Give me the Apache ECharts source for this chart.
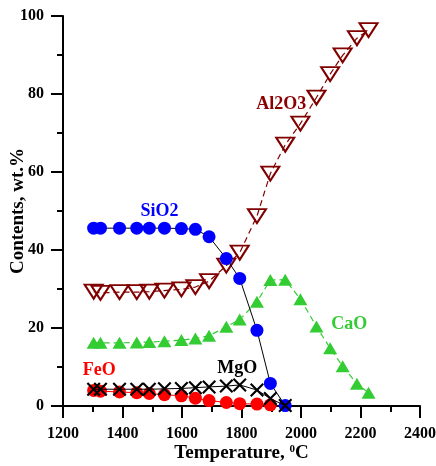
<!DOCTYPE html>
<html>
<head>
<meta charset="utf-8">
<script src="https://cdn.jsdelivr.net/npm/echarts@6/dist/echarts.min.js"></script>
<style>
html,body{margin:0;padding:0;background:#fff;}
#chart{width:436px;height:466px;}
</style>
</head>
<body>
<div id="chart"></div>
<script>
// Temperatures (°C)
const temps = [1303, 1326, 1390, 1448, 1490, 1541, 1598, 1645, 1691, 1749, 1794, 1852, 1897, 1947, 1998, 2052, 2098, 2140, 2188, 2227];
// Contents, wt.%
const sio2  = [45.6, 45.6, 45.6, 45.6, 45.6, 45.6, 45.5, 45.3, 43.4, 37.8, 32.7, 19.4, 5.8, 0.1];
const al2o3 = [29.3, 29.0, 29.2, 29.2, 29.3, 29.6, 29.9, 30.5, 32.0, 36.0, 39.3, 48.7, 59.6, 67.0, 72.4, 79.1, 85.1, 89.9, 94.3, 96.4];
const cao   = [16.2, 16.2, 16.2, 16.3, 16.4, 16.6, 16.9, 17.3, 18.0, 20.3, 22.2, 26.7, 32.3, 32.4, 27.4, 20.4, 14.8, 10.2, 5.7, 3.4];
const feo   = [4.0, 3.8, 3.6, 3.4, 3.2, 2.9, 2.6, 2.0, 1.4, 0.9, 0.6, 0.5, 0.3];
const mgo   = [4.3, 4.3, 4.3, 4.3, 4.3, 4.4, 4.5, 4.7, 4.9, 5.1, 5.4, 4.1, 1.9, 0.1];
// Series labels: [text, temperature, value, colour]
const labels = [
  ['SiO2', 1524, 50.0, '#0000ff'],
  ['Al2O3', 1934, 77.4, '#8b0000'],
  ['CaO', 2162, 21.0, '#33cc33'],
  ['FeO', 1322, 9.2, '#ff0000'],
  ['MgO', 1786, 9.7, '#000000']
];

const FF = '"Liberation Serif","Times New Roman",serif';
const pairs = vals => vals.map((v, i) => [temps[i], v]);
const xPath = 'path://M0,1.5L1.5,0L7,5.5L12.5,0L14,1.5L8.5,7L14,12.5L12.5,14L7,8.5L1.5,14L0,12.5L5.5,7Z';

const chart = echarts.init(document.getElementById('chart'), null, {renderer: 'canvas'});
function axisCommon() {
  return {
    type: 'value',
    axisLine: {show: true, onZero: false, lineStyle: {color: '#000', width: 2}},
    axisTick: {show: true, inside: false, length: 12, lineStyle: {color: '#000', width: 2}},
    minorTick: {show: true, splitNumber: 2, length: 6, lineStyle: {color: '#000', width: 2}},
    splitLine: {show: false},
    minorSplitLine: {show: false},
    nameMoveOverlap: false
  };
}
const option = {
  animation: false,
  backgroundColor: '#fff',
  grid: {left: 63, right: 16, top: 16, bottom: 60, containLabel: false, outerBoundsMode: 'none'},
  xAxis: Object.assign(axisCommon(), {
    min: 1200, max: 2400, interval: 200,
    axisLabel: {margin: 20, fontFamily: FF, fontWeight: 'bold', fontSize: 16, color: '#000', showMinLabel: true, showMaxLabel: true,
      formatter: v => String(v)},
    name: 'Temperature, {sup|0}C',
    nameLocation: 'middle', nameGap: 38,
    nameTextStyle: {fontFamily: FF, fontWeight: 'bold', fontSize: 19, color: '#000',
      rich: {sup: {fontFamily: FF, fontWeight: 'bold', fontSize: 11, color: '#000', verticalAlign: 'top', padding: [0, 0, 8, 0]}}}
  }),
  yAxis: Object.assign(axisCommon(), {
    min: 0, max: 100, interval: 20,
    axisLabel: {margin: 19, fontFamily: FF, fontWeight: 'bold', fontSize: 16, color: '#000', showMinLabel: true, showMaxLabel: true,
      formatter: v => String(v)},
    name: 'Contents, wt.%',
    nameLocation: 'middle', nameGap: 35, nameRotate: 90,
    nameTextStyle: {fontFamily: FF, fontWeight: 'bold', fontSize: 19, color: '#000'}
  }),
  series: [
    {type: 'line', name: 'CaO', data: pairs(cao), symbol: 'triangle', symbolSize: [14, 12],
      itemStyle: {color: '#33cc33'}, lineStyle: {color: '#33cc33', width: 1.2, type: [6, 4]}, z: 2},
    {type: 'line', name: 'Al2O3', data: pairs(al2o3), symbol: 'triangle', symbolRotate: 180, symbolSize: [18, 14],
      itemStyle: {color: 'rgba(0,0,0,0)', borderColor: '#800000', borderWidth: 2}, lineStyle: {color: '#800000', width: 1.2, type: [6, 4]}, z: 3},
    {type: 'line', name: 'FeO', data: pairs(feo), symbol: 'circle', symbolSize: 13,
      itemStyle: {color: '#ff0000'}, lineStyle: {color: '#ff0000', width: 1}, z: 3},
    {type: 'line', name: 'SiO2', data: pairs(sio2), symbol: 'circle', symbolSize: 13,
      itemStyle: {color: '#0000ff'}, lineStyle: {color: '#000', width: 1}, z: 4},
    {type: 'line', name: 'MgO', data: pairs(mgo), symbol: xPath, symbolSize: 14,
      itemStyle: {color: '#000'}, lineStyle: {color: '#000', width: 1}, z: 5}
  ]
};
chart.setOption(option);
const graphics = labels.map(l => {
  const p = chart.convertToPixel({gridIndex: 0}, [l[1], l[2]]);
  return {type: 'text', x: p[0], y: p[1], z: 10,
    style: {text: l[0], fill: l[3], font: 'bold 18px ' + FF, align: 'center', verticalAlign: 'middle', textAlign: 'center', textVerticalAlign: 'middle'}};
});
chart.setOption({graphic: graphics});
</script>
</body>
</html>
